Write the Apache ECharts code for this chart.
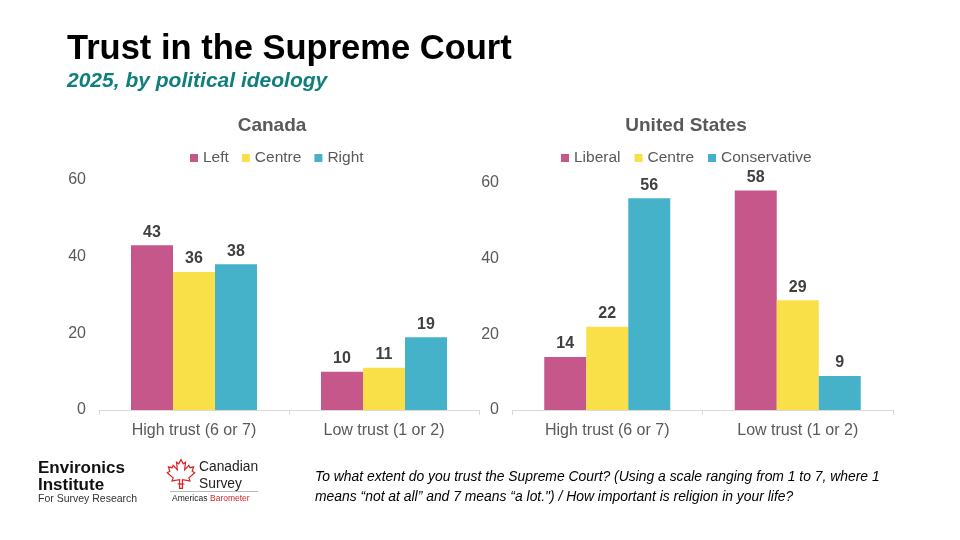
<!DOCTYPE html>
<html>
<head>
<meta charset="utf-8">
<script src="https://cdn.jsdelivr.net/npm/echarts@6/dist/echarts.min.js"></script>
<style>
  html, body { margin: 0; padding: 0; background: #fff; }
  #chart { width: 960px; height: 540px; }
</style>
</head>
<body>
<div id="chart"></div>
<script>
// categories shared by both panels
var categories = ['High trust (6 or 7)', 'Low trust (1 or 2)'];

// Canada
var caNames = ['Left', 'Centre', 'Right'];
var caLeft = [43, 10];
var caCentre = [36, 11];
var caRight = [38, 19];

// United States
var usNames = ['Liberal', 'Centre', 'Conservative'];
var usLiberal = [14, 58];
var usCentre = [22, 29];
var usConservative = [56, 9];

var colors = ['#C5578A', '#F9DF48', '#45B2CA'];
var FONT = '"Liberation Sans", Arial, sans-serif';

var chart = echarts.init(document.getElementById('chart'));

function barSeries(name, data, idx, color) {
  return {
    name: name,
    type: 'bar',
    xAxisIndex: idx,
    yAxisIndex: idx,
    data: data,
    barWidth: 42,
    barGap: '0%',
    itemStyle: { color: color },
    label: {
      show: true,
      position: 'top',
      distance: 5,
      color: '#404040',
      fontSize: 16,
      fontWeight: 'bold',
      fontFamily: FONT
    }
  };
}

function xAxis(idx) {
  return {
    type: 'category',
    gridIndex: idx,
    data: categories,
    axisLine: { lineStyle: { color: '#D9D9D9' } },
    axisTick: { show: true, length: 5, lineStyle: { color: '#D9D9D9' } },
    axisLabel: { color: '#595959', fontSize: 16, fontFamily: FONT, margin: 13 }
  };
}

function yAxis(idx) {
  return {
    type: 'value',
    gridIndex: idx,
    min: 0,
    max: 60,
    interval: 20,
    axisLine: { show: false },
    axisTick: { show: false },
    splitLine: { show: false },
    axisLabel: { color: '#595959', fontSize: 16, fontFamily: FONT, margin: 13 }
  };
}

var legendText = { color: '#595959', fontSize: 15.5, fontFamily: FONT };

// maple leaf outline for the survey logo (0-100 box, scaled below)
var leaf = [[50,2],[58,16],[66,11],[63,36],[78,21],[82,29],[95,26],[90,41],[99,46],[78,63],[82,73],
  [55,69],[55,98],[45,98],[45,69],[18,73],[22,63],[1,46],[10,41],[5,26],[18,29],[22,21],[37,36],[34,11],[42,16]];
var leafPts = leaf.map(function (p) { return [167 + p[0] * 0.28, 459 + p[1] * 0.30]; });

chart.setOption({
  animation: false,
  title: [
    {
      text: 'Trust in the Supreme Court',
      left: 62,
      top: 27,
      textStyle: { color: '#000', fontSize: 34.5, fontWeight: 'bold', fontFamily: FONT }
    },
    {
      text: '2025, by political ideology',
      left: 62,
      top: 66,
      textStyle: { color: '#0F7F7C', fontSize: 21, fontWeight: 'bold', fontStyle: 'italic', fontFamily: FONT }
    }
  ],
  legend: [
    {
      data: caNames,
      left: 185,
      top: 145,
      icon: 'rect',
      itemWidth: 8,
      itemHeight: 8,
      itemGap: 13,
      selectedMode: false,
      textStyle: legendText
    },
    {
      data: usNames,
      left: 556,
      top: 145,
      icon: 'rect',
      itemWidth: 8,
      itemHeight: 8,
      itemGap: 14,
      selectedMode: false,
      textStyle: legendText
    }
  ],
  grid: [
    { left: 99, right: 481, top: 180, bottom: 130 },
    { left: 512, right: 67, top: 183, bottom: 130 }
  ],
  xAxis: [xAxis(0), xAxis(1)],
  yAxis: [yAxis(0), yAxis(1)],
  series: [
    barSeries(caNames[0], caLeft, 0, colors[0]),
    barSeries(caNames[1], caCentre, 0, colors[1]),
    barSeries(caNames[2], caRight, 0, colors[2]),
    barSeries(usNames[0], usLiberal, 1, colors[0]),
    barSeries(usNames[1], usCentre, 1, colors[1]),
    barSeries(usNames[2], usConservative, 1, colors[2])
  ],
  graphic: [
    {
      type: 'text',
      style: { text: 'Canada', x: 272, y: 126, textAlign: 'center', textVerticalAlign: 'middle',
        font: 'bold 19px ' + FONT, fill: '#595959' }
    },
    {
      type: 'text',
      style: { text: 'United States', x: 686, y: 126, textAlign: 'center', textVerticalAlign: 'middle',
        font: 'bold 19px ' + FONT, fill: '#595959' }
    },
    // footnote
    {
      type: 'text',
      style: {
        text: 'To what extent do you trust the Supreme Court? (Using a scale ranging from 1 to 7, where 1\n' +
          'means \u201cnot at all\u201d and 7 means \u201ca lot.") / How important is religion in your life?',
        x: 315, y: 467, font: 'italic 13.9px ' + FONT, fill: '#000', lineHeight: 20
      }
    },
    // Environics logo
    {
      type: 'text',
      style: { text: 'Environics', x: 38, y: 468, textVerticalAlign: 'middle', font: 'bold 17px ' + FONT, fill: '#111' }
    },
    {
      type: 'text',
      style: { text: 'Institute', x: 38, y: 485, textVerticalAlign: 'middle', font: 'bold 17px ' + FONT, fill: '#111' }
    },
    {
      type: 'text',
      style: { text: 'For Survey Research', x: 38, y: 499, textVerticalAlign: 'middle', font: '10.5px ' + FONT, fill: '#333' }
    },
    // Canadian Survey logo
    {
      type: 'polygon',
      shape: { points: leafPts },
      style: { fill: 'none', stroke: '#D8232A', lineWidth: 1.2 }
    },
    {
      type: 'line',
      shape: { x1: 177.6, y1: 484, x2: 184.4, y2: 484 },
      style: { stroke: '#D8232A', lineWidth: 1.2 }
    },
    {
      type: 'text',
      style: { text: 'Canadian', x: 199, y: 467, textVerticalAlign: 'middle', font: '13.8px ' + FONT, fill: '#222' }
    },
    {
      type: 'text',
      style: { text: 'Survey', x: 199, y: 484, textVerticalAlign: 'middle', font: '13.8px ' + FONT, fill: '#222' }
    },
    {
      type: 'line',
      shape: { x1: 170, y1: 491.5, x2: 258, y2: 491.5 },
      style: { stroke: '#BBBBBB', lineWidth: 1 }
    },
    {
      type: 'text',
      style: { text: 'Americas', x: 172, y: 499, textVerticalAlign: 'middle', font: '8.5px ' + FONT, fill: '#222' }
    },
    {
      type: 'text',
      style: { text: 'Barometer', x: 210, y: 499, textVerticalAlign: 'middle', font: '8.5px ' + FONT, fill: '#D8232A' }
    }
  ]
});
</script>
</body>
</html>
